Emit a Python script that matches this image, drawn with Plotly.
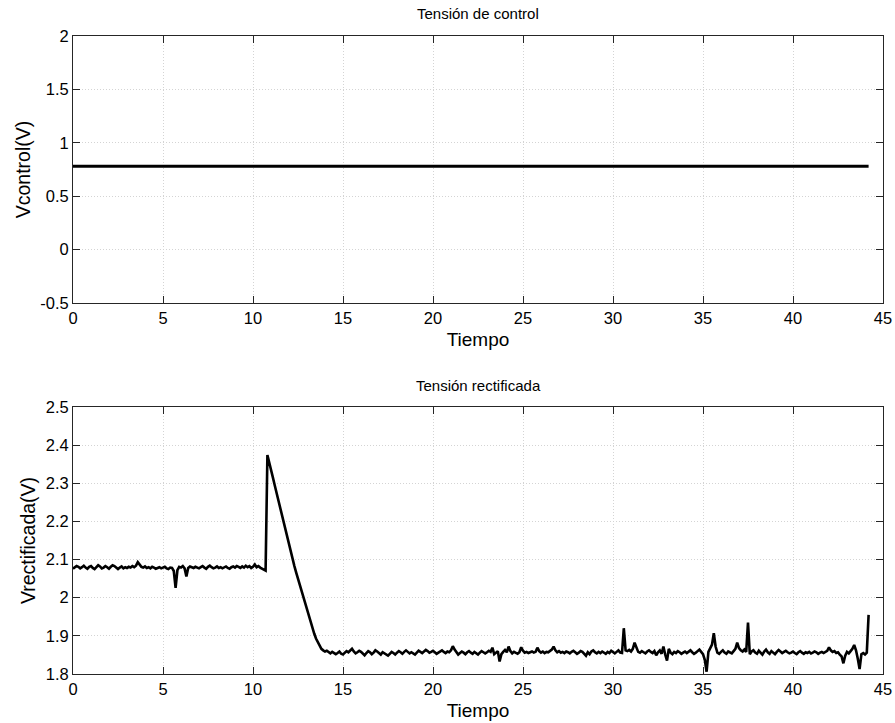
import plotly.graph_objects as go
from plotly.subplots import make_subplots

# ---- data ----
tiempo_control = [0.0, 44.2]
vcontrol = [0.78, 0.78]

vrect = [
    2.076, 2.079, 2.083, 2.081, 2.077, 2.080, 2.084, 2.079, 2.076, 2.081,
    2.083, 2.078, 2.075, 2.080, 2.085, 2.082, 2.077, 2.079, 2.083, 2.080,
    2.076, 2.081, 2.085, 2.083, 2.078, 2.075, 2.079, 2.082, 2.077, 2.080,
    2.078, 2.081, 2.079, 2.083, 2.080, 2.084, 2.093, 2.086, 2.081, 2.079,
    2.082, 2.078, 2.080, 2.077, 2.081, 2.079, 2.076, 2.078, 2.080, 2.077,
    2.079, 2.081, 2.077, 2.075, 2.079, 2.078, 2.070, 2.026, 2.072, 2.081,
    2.079, 2.083, 2.077, 2.056, 2.078, 2.082, 2.080, 2.078, 2.081, 2.079,
    2.077, 2.080, 2.083, 2.079, 2.076, 2.081, 2.084, 2.080, 2.077, 2.079,
    2.082, 2.078, 2.080, 2.077, 2.079, 2.082, 2.078, 2.076, 2.080, 2.082,
    2.079, 2.083, 2.081, 2.078, 2.082, 2.079, 2.084, 2.080, 2.083, 2.078,
    2.081, 2.087, 2.080, 2.083, 2.079, 2.077, 2.074, 2.071, 2.374, 2.352,
    2.334, 2.316, 2.296, 2.276, 2.258, 2.240, 2.222, 2.202, 2.184, 2.163,
    2.144, 2.124, 2.104, 2.083, 2.066, 2.050, 2.032, 2.016, 1.999, 1.983,
    1.966, 1.951, 1.935, 1.920, 1.906, 1.893, 1.883, 1.872, 1.866, 1.862,
    1.859, 1.861, 1.857, 1.854, 1.858, 1.856, 1.852, 1.855, 1.859, 1.853,
    1.851, 1.856, 1.860, 1.857, 1.862, 1.866, 1.859, 1.854, 1.857, 1.861,
    1.858, 1.853, 1.849, 1.855, 1.860, 1.857, 1.852, 1.856, 1.862, 1.859,
    1.855, 1.851, 1.857, 1.854, 1.850, 1.848, 1.853, 1.858, 1.855, 1.851,
    1.856, 1.860, 1.857, 1.853, 1.858, 1.862, 1.858, 1.854, 1.857, 1.855,
    1.851, 1.856, 1.861, 1.858, 1.855, 1.859, 1.863, 1.860, 1.856, 1.858,
    1.861, 1.857, 1.853, 1.856, 1.859, 1.862, 1.858, 1.855, 1.859, 1.857,
    1.862, 1.873, 1.864, 1.856, 1.851, 1.855, 1.859, 1.856, 1.852, 1.857,
    1.860, 1.856, 1.853, 1.858, 1.855, 1.851, 1.856, 1.860, 1.857, 1.854,
    1.857, 1.861, 1.858, 1.869, 1.852, 1.856, 1.860, 1.833, 1.852, 1.858,
    1.863, 1.857, 1.872, 1.860, 1.854, 1.858, 1.856, 1.853, 1.857, 1.870,
    1.861, 1.856, 1.858, 1.855, 1.857, 1.859, 1.856, 1.858, 1.869, 1.860,
    1.856, 1.859, 1.855, 1.858, 1.857, 1.861, 1.864, 1.872, 1.862, 1.857,
    1.860, 1.856, 1.858, 1.855, 1.859, 1.857, 1.854, 1.858, 1.861, 1.857,
    1.853, 1.856, 1.860, 1.858, 1.854, 1.848, 1.857, 1.852, 1.859, 1.862,
    1.857, 1.854, 1.858, 1.855, 1.859, 1.856, 1.853, 1.858, 1.855, 1.861,
    1.857, 1.854, 1.858, 1.862, 1.856, 1.855, 1.920, 1.862, 1.860, 1.863,
    1.859, 1.866, 1.882, 1.868, 1.858, 1.856, 1.860, 1.857, 1.854, 1.859,
    1.862, 1.858, 1.855, 1.860, 1.849, 1.857, 1.862, 1.853, 1.872, 1.851,
    1.835, 1.866, 1.856, 1.852, 1.858, 1.855, 1.860, 1.857, 1.853, 1.856,
    1.859, 1.855, 1.858, 1.862, 1.857, 1.853, 1.856, 1.860, 1.864, 1.858,
    1.852, 1.837, 1.806, 1.858, 1.866, 1.877, 1.907, 1.872, 1.856, 1.853,
    1.858, 1.862, 1.856, 1.853, 1.859, 1.857, 1.854, 1.860, 1.866, 1.882,
    1.868, 1.862, 1.859, 1.864, 1.858, 1.935, 1.852, 1.859, 1.862, 1.856,
    1.853, 1.861, 1.857, 1.851, 1.859, 1.864, 1.857, 1.853, 1.860, 1.857,
    1.852, 1.858, 1.863, 1.859, 1.855, 1.858, 1.861, 1.857, 1.854, 1.856,
    1.859, 1.855, 1.852, 1.857, 1.860, 1.856, 1.853, 1.857, 1.855, 1.858,
    1.854, 1.856, 1.859, 1.857, 1.853, 1.856, 1.858, 1.855, 1.857, 1.861,
    1.870, 1.862, 1.858, 1.860, 1.855, 1.857, 1.851, 1.846, 1.828, 1.848,
    1.858, 1.854, 1.860, 1.866, 1.876, 1.862, 1.840, 1.813, 1.852, 1.855,
    1.851, 1.856, 1.955,
]
dt = 0.1
tiempo_rect = [round(i * dt, 1) for i in range(len(vrect))]

x_ticks = [0, 5, 10, 15, 20, 25, 30, 35, 40, 45]
x_ticktext = ["0", "5", "10", "15", "20", "25", "30", "35", "40", "45"]
y1_ticks = [-0.5, 0, 0.5, 1, 1.5, 2]
y1_ticktext = ["-0.5", "0", "0.5", "1", "1.5", "2"]
y2_ticks = [1.8, 1.9, 2.0, 2.1, 2.2, 2.3, 2.4, 2.5]
y2_ticktext = ["1.8", "1.9", "2", "2.1", "2.2", "2.3", "2.4", "2.5"]

title_top = "Tensión de control"
title_bottom = "Tensión rectificada"
xlabel = "Tiempo"
ylabel_top = "Vcontrol(V)"
ylabel_bottom = "Vrectificada(V)"

# ---- figure ----
fig = make_subplots(rows=2, cols=1)
fig.add_trace(go.Scatter(x=tiempo_control, y=vcontrol, mode="lines",
                         line=dict(color="black", width=3), showlegend=False),
              row=1, col=1)
fig.add_trace(go.Scatter(x=tiempo_rect, y=vrect, mode="lines",
                         line=dict(color="black", width=2.6), showlegend=False),
              row=2, col=1)

font_family = "Liberation Sans, Arial, sans-serif"
axis_common = dict(
    showline=True, linecolor="#262626", linewidth=1, mirror="ticks",
    ticks="inside", ticklen=7, tickcolor="#262626", tickwidth=1,
    showgrid=True, gridcolor="#d4d4d4", griddash="1px,2px", gridwidth=1,
    zeroline=False, automargin=False,
    tickfont=dict(size=16.5, color="black", family=font_family),
)

fig.update_layout(
    width=895, height=723,
    margin=dict(l=73, r=12, t=36, b=49),
    paper_bgcolor="white", plot_bgcolor="white",
    font=dict(family=font_family, color="black"),
    xaxis=dict(domain=[0, 1], range=[0, 45], tickvals=x_ticks, ticktext=x_ticktext,
               title=dict(text=xlabel, font=dict(size=19), standoff=6), **axis_common),
    yaxis=dict(domain=[0.5815, 1], range=[-0.5, 2], tickvals=y1_ticks, ticktext=y1_ticktext,
               title=dict(text=ylabel_top, font=dict(size=19.5), standoff=4), **axis_common),
    xaxis2=dict(domain=[0, 1], range=[0, 45], tickvals=x_ticks, ticktext=x_ticktext,
                title=dict(text=xlabel, font=dict(size=19), standoff=6), **axis_common),
    yaxis2=dict(domain=[0, 0.4185], range=[1.8, 2.5], tickvals=y2_ticks, ticktext=y2_ticktext,
                title=dict(text=ylabel_bottom, font=dict(size=19.5), standoff=4), **axis_common),
    annotations=[
        dict(text=title_top, xref="paper", yref="paper", x=0.5, y=(674 - 14) / 638,
             xanchor="center", yanchor="middle", showarrow=False, font=dict(size=15)),
        dict(text=title_bottom, xref="paper", yref="paper", x=0.5, y=(674 - 385) / 638,
             xanchor="center", yanchor="middle", showarrow=False, font=dict(size=15)),
    ],
)

# remove the browser's default 8px body margin so the figure fills the window exactly
fig.write_html("out.html",
               config={"displayModeBar": False},
               post_script="document.body.style.margin='0px';document.body.style.overflow='hidden';")
